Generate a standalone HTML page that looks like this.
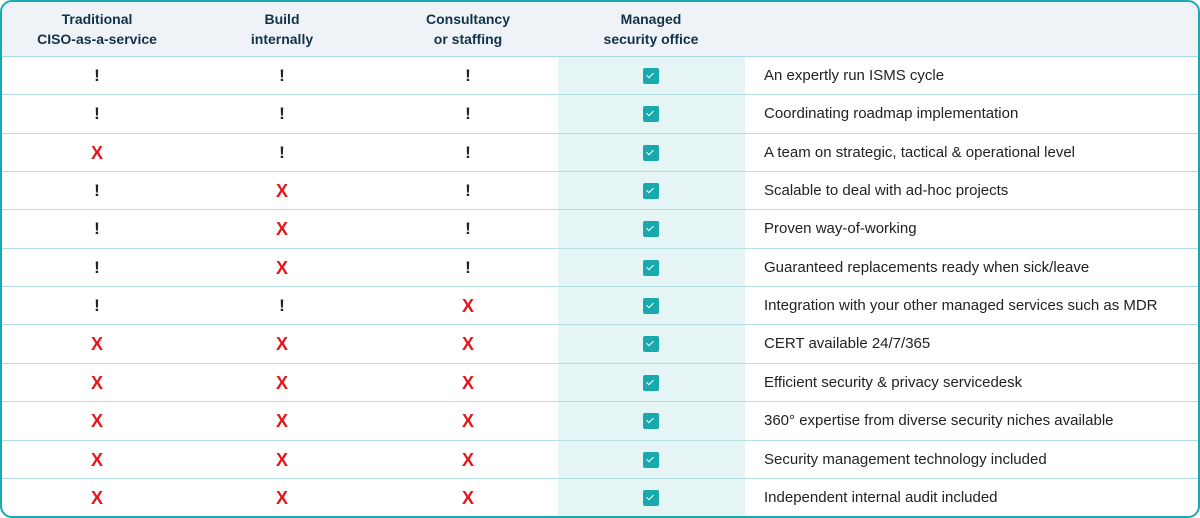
<!DOCTYPE html>
<html><head><meta charset="utf-8"><style>
*{margin:0;padding:0;box-sizing:border-box}
body{width:1200px;height:518px;background:#fff;font-family:"Liberation Sans",Arial,sans-serif;overflow:hidden}
.box{position:absolute;left:0;top:0;width:1200px;height:518px;border:2px solid #17aab0;border-radius:12px;overflow:hidden;background:#fff}
.hdr{position:absolute;left:0;top:0;width:1200px;height:55px;background:#eff3f8;border-bottom:1px solid #a9dadd}
.hl{position:absolute;left:556px;top:55px;width:187px;height:462px;background:#e5f5f5}
.h{position:absolute;top:7px;width:200px;text-align:center;font-weight:bold;font-size:14px;line-height:20px;color:#123347}
.row{position:absolute;left:0;width:1200px;height:38.4px;border-bottom:1px solid #b3dfe2}
.c{position:absolute;top:0;height:38px;line-height:38px;width:40px;text-align:center;font-weight:bold}
.ex{font-size:17px;color:#222}
.x{font-size:18px;color:#e8141b;font-family:"Liberation Sans",sans-serif}
.cb{position:absolute;left:641px;top:11px;width:16px;height:16px;background:#17a9ae;border-radius:2px}
.cb:after{content:"";position:absolute;left:5px;top:3px;width:3px;height:6px;border:solid #fff;border-width:0 1.6px 1.6px 0;transform:rotate(45deg)}
.t{position:absolute;left:762px;top:0;line-height:38px;font-size:15px;color:#222}
</style></head><body>
<div class="box">
<div class="hdr"></div>
<div class="hl"></div>
<div class="h" style="left:-5px">Traditional<br>CISO-as-a-service</div>
<div class="h" style="left:180px">Build<br>internally</div>
<div class="h" style="left:366px">Consultancy<br>or staffing</div>
<div class="h" style="left:549px">Managed<br>security office</div>
<div id="rows"></div>
</div>
<script>
var d=[["!","!","!","An expertly run ISMS cycle"],["!","!","!","Coordinating roadmap implementation"],["X","!","!","A team on strategic, tactical &amp; operational level"],["!","X","!","Scalable to deal with ad-hoc projects"],["!","X","!","Proven way-of-working"],["!","X","!","Guaranteed replacements ready when sick/leave"],["!","!","X","Integration with your other managed services such as MDR"],["X","X","X","CERT available 24/7/365"],["X","X","X","Efficient security &amp; privacy servicedesk"],["X","X","X","360° expertise from diverse security niches available"],["X","X","X","Security management technology included"],["X","X","X","Independent internal audit included"]];
var cx=[75,260,446],h="";
d.forEach(function(r,i){h+='<div class="row" style="top:'+(55+i*38.35)+'px">';
for(var j=0;j<3;j++){h+='<div class="c '+(r[j]=="X"?"x":"ex")+'" style="left:'+cx[j]+'px">'+r[j]+'</div>';}
h+='<div class="cb"></div><div class="t">'+r[3]+'</div></div>';});
document.getElementById("rows").innerHTML=h;
</script>
</body></html>
